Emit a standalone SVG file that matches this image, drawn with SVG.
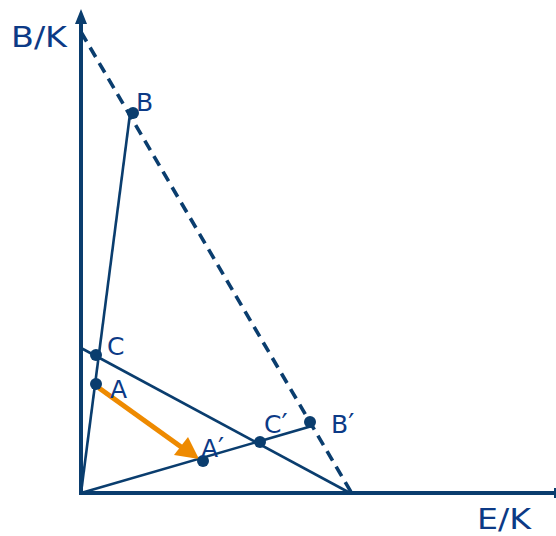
<svg xmlns="http://www.w3.org/2000/svg" width="556" height="536" viewBox="0 0 556 536">
<style>
.ax{stroke:#0a3d6e;stroke-width:4;fill:none}
.ln{stroke:#0a3d6e;stroke-width:2.6;fill:none}
.ds{stroke:#0a3d6e;stroke-width:3.6;fill:none;stroke-dasharray:11 7}
.dot{fill:#0a3d6e}
.lb{font-family:"DejaVu Sans",Verdana,sans-serif;fill:#0c3a86}
.axl{font-size:28px}
.ptl{font-size:25px}
.pr{font-size:27px}
</style>
<rect width="556" height="536" fill="#ffffff"/>
<g id="axes">
<line class="ax" x1="81" y1="493" x2="81" y2="20"/>
<path d="M81,9 L75,24 L87,24 Z" fill="#0a3d6e"/>
<line class="ax" x1="79" y1="493" x2="556" y2="493"/>
<line x1="555" y1="488" x2="555" y2="498" stroke="#0a3d6e" stroke-width="2"/>
</g>
<g id="connectors">
<line class="ds" x1="81" y1="32" x2="351" y2="492"/>
<line class="ln" x1="81" y1="493" x2="130" y2="114"/>
<line class="ln" x1="81" y1="348" x2="350" y2="493"/>
<line class="ln" x1="81" y1="493" x2="312" y2="426"/>
<line x1="99" y1="388" x2="184" y2="449" stroke="#ee8a00" stroke-width="5"/>
<path d="M199,459 L174,455 L188,437 Z" fill="#ee8a00"/>
</g>
<g id="B"><circle class="dot" cx="133" cy="113" r="6"/><text class="lb ptl" x="136" y="111">B</text></g>
<g id="C"><circle class="dot" cx="96" cy="355" r="6"/><text class="lb ptl" x="107" y="355">C</text></g>
<g id="A"><circle class="dot" cx="96" cy="384" r="6"/><text class="lb ptl" x="110" y="398">A</text></g>
<g id="A2"><circle class="dot" cx="203" cy="461" r="6"/><text class="lb ptl" x="201" y="457">A<tspan class="pr">′</tspan></text></g>
<g id="C2"><circle class="dot" cx="260" cy="442" r="6"/><text class="lb ptl" x="264" y="433">C<tspan class="pr">′</tspan></text></g>
<g id="B2"><circle class="dot" cx="310" cy="422" r="6"/><text class="lb ptl" x="331" y="433">B<tspan class="pr">′</tspan></text></g>
<g id="labels">
<text class="lb axl" x="11" y="47" textLength="56" lengthAdjust="spacingAndGlyphs">B/K</text>
<text class="lb axl" x="477" y="529" textLength="54" lengthAdjust="spacingAndGlyphs">E/K</text>
</g>
</svg>
